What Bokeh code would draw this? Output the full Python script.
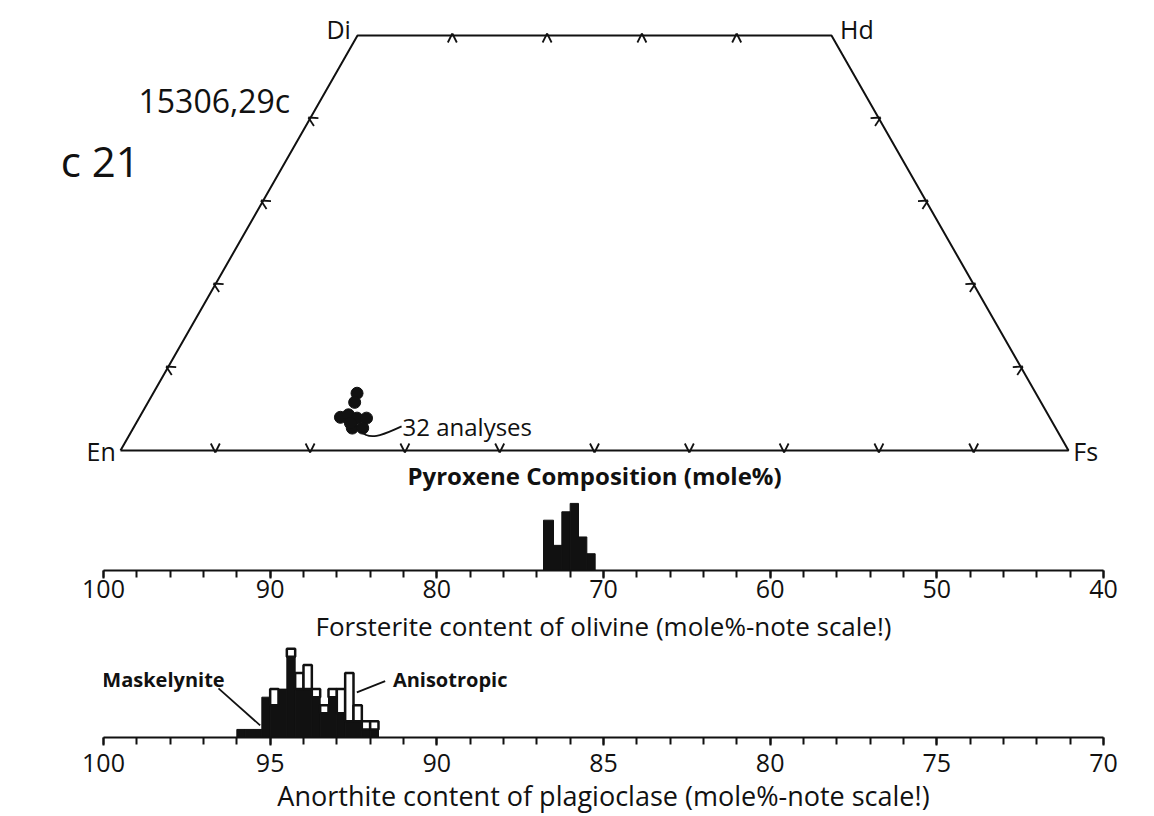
from bokeh.plotting import figure
from bokeh.models import Range1d, FixedTicker
from bokeh.core.properties import value
from bokeh.embed import file_html
from bokeh.resources import INLINE

FONT = "Open Sans"
INK = "#111111"

# ---------------- data ----------------
# pyroxene quadrilateral corners (Fs, Wo in mole %)
corner_names = ["En", "Fs", "Hd", "Di"]
corner_fs = [0, 100, 50, 0]
corner_wo = [0, 0, 50, 50]
edge_ticks_base = [10, 20, 30, 40, 50, 60, 70, 80, 90]   # Fs % along En-Fs
edge_ticks_side = [10, 20, 30, 40]                       # Wo % along sides
edge_ticks_top = [10, 20, 30, 40]                        # Fs % along Di-Hd

# pyroxene analyses (cluster of 32 analyses)
pyx_fs = [21.5, 21.8, 21.2, 21.9, 23.0, 24.0, 23.1, 24.2, 22.6]
pyx_wo = [6.9, 5.8, 4.0, 4.3, 3.9, 3.9, 2.7, 2.7, 3.3]

# olivine histogram (Fo mole %, bin upper edges), counts
oliv_bin_hi = [73.6, 73.0, 72.5, 72.0, 71.5, 71.0]
oliv_bin_lo = [73.0, 72.5, 72.0, 71.5, 71.0, 70.5]
oliv_counts = [6, 3, 7, 8, 4, 2]
oliv_ticks = [100, 90, 80, 70, 60, 50, 40]

# plagioclase histogram (An mole %, bin upper edges)
plag_bin_hi = [96.0, 95.75, 95.5, 95.25, 95.0, 94.75, 94.5, 94.25, 94.0,
               93.75, 93.5, 93.25, 93.0, 92.75, 92.5, 92.25, 92.0]
plag_bin_w = 0.25
plag_mask = [1, 1, 1, 5, 4, 6, 10, 6, 6, 5, 3, 5, 3, 2, 2, 1, 1]
plag_aniso = [0, 0, 0, 0, 2, 0, 1, 2, 3, 1, 1, 1, 3, 6, 2, 1, 1]
plag_ticks = [100, 95, 90, 85, 80, 75, 70]

# ---------------- pyroxene quadrilateral ----------------
W = 1154
SX = 9.48   # px per unit x
SY = 8.3    # px per unit Wo
X0 = 120    # px of En
Y0 = 450    # px of En-Fs line
HA = 497

def qx(fs, wo):
    return fs + wo / 2.0

pA = figure(width=W, height=HA, output_backend="svg", toolbar_location=None,
            x_range=Range1d(-X0 / SX, (W - X0) / SX),
            y_range=Range1d(-(HA - Y0) / SY, Y0 / SY),
            min_border=0)
pA.axis.visible = False
pA.grid.visible = False
pA.outline_line_color = None
pA.background_fill_color = "white"
pA.border_fill_color = "white"

cx = [qx(f, w) for f, w in zip(corner_fs, corner_wo)]
cy = list(corner_wo)
pA.line(cx + [cx[0]], cy + [cy[0]], line_color=INK, line_width=2)

# chevron tick marks pointing outward
chev_xs, chev_ys = [], []
def chevron(px_, py_, nx, ny):
    tx, ty = -ny, nx
    vx, vy = px_ + 2.0 * nx / SX, py_ + 2.0 * ny / SY
    a, b = 7.0, 4.5
    for s in (1, -1):
        ex = px_ + (-a * nx + s * b * tx) / SX
        ey = py_ + (-a * ny + s * b * ty) / SY
        chev_xs.append([vx, ex])
        chev_ys.append([vy, ey])

def edge_normal(p1, p2, inside):
    dx = (p2[0] - p1[0]) * SX
    dy = (p2[1] - p1[1]) * SY
    L = (dx * dx + dy * dy) ** 0.5
    nx, ny = dy / L, -dx / L
    mx = ((p1[0] + p2[0]) / 2 - inside[0]) * SX
    my = ((p1[1] + p2[1]) / 2 - inside[1]) * SY
    if nx * mx + ny * my < 0:
        nx, ny = -nx, -ny
    return nx, ny

center = (50, 25)
En = (cx[0], cy[0]); Fs = (cx[1], cy[1]); Hd = (cx[2], cy[2]); Di = (cx[3], cy[3])
n = edge_normal(En, Fs, center)
for f in edge_ticks_base:
    chevron(qx(f, 0), 0, *n)
n = edge_normal(En, Di, center)
for w in edge_ticks_side:
    chevron(qx(0, w), w, *n)
n = edge_normal(Fs, Hd, center)
for w in edge_ticks_side:
    chevron(qx(100 - w, w), w, *n)
n = edge_normal(Di, Hd, center)
for f in edge_ticks_top:
    chevron(qx(f, 50), 50, *n)
pA.multi_line(chev_xs, chev_ys, line_color=INK, line_width=1.8)

# analyses cluster
ax_ = [qx(f, w) for f, w in zip(pyx_fs, pyx_wo)]
pA.scatter(ax_, pyx_wo, size=12, color=INK)

# corner labels
fs_lab = 25
pA.text([En[0] - 0.5], [En[1]], text=["En"], text_align="right", text_baseline="middle",
        text_font=value(FONT), text_font_size=f"{fs_lab}px", text_color=INK)
pA.text([Fs[0] + 0.5], [Fs[1]], text=["Fs"], text_align="left", text_baseline="middle",
        text_font=value(FONT), text_font_size=f"{fs_lab}px", text_color=INK)
pA.text([Di[0] - 0.7], [Di[1] + 0.8], text=["Di"], text_align="right", text_baseline="middle",
        text_font=value(FONT), text_font_size=f"{fs_lab}px", text_color=INK)
pA.text([Hd[0] + 0.9], [Hd[1] + 0.8], text=["Hd"], text_align="left", text_baseline="middle",
        text_font=value(FONT), text_font_size=f"{fs_lab}px", text_color=INK)

# leader from cluster to its note
lx0, ly0 = max(ax_), min(pyx_wo) - 0.4
tx0, ty0 = lx0 + 3.7, ly0 + 0.6
pA.bezier(x0=[lx0 - 0.6], y0=[ly0], x1=[tx0], y1=[ty0],
          cx0=[lx0 + 0.5], cy0=[ly0 - 1.3], cx1=[tx0 - 1.5], cy1=[ty0 - 0.7],
          line_color=INK, line_width=1.8)
pA.text([tx0 + 0.1], [ty0], text=["32 analyses"], text_align="left", text_baseline="middle",
        text_font=value(FONT), text_font_size="24px", text_color=INK)

pA.text([50], [-3.0], text=["Pyroxene Composition (mole%)"], text_align="center",
        text_baseline="middle", text_font=value(FONT), text_font_size="24px",
        text_font_style="bold", text_color=INK)
pA.text([1.9], [42.2], text=["15306,29c"], text_align="left", text_baseline="middle",
        text_font=value(FONT), text_font_size="32px", text_color=INK)
pA.text([-6.3], [34.9], text=["c 21"], text_align="left", text_baseline="middle",
        text_font=value(FONT), text_font_size="42px", text_color=INK)

# ---------------- histogram panels ----------------
FL, FR = 103, W - 1103

def hist_panel(height, frame_h, unit_px, xr, ticks, minor, title, lab_off, title_off, tsize):
    p = figure(width=W, height=height, output_backend="svg", toolbar_location=None,
               x_range=Range1d(*xr), y_range=Range1d(0, frame_h / unit_px),
               min_border_left=FL, min_border_right=FR, min_border_top=0,
               min_border_bottom=height - frame_h)
    p.yaxis.visible = False
    p.grid.visible = False
    p.outline_line_color = None
    p.background_fill_color = "white"
    p.border_fill_color = "white"
    ax = p.xaxis[0]
    ax.ticker = FixedTicker(ticks=ticks, minor_ticks=minor)
    ax.axis_line_color = INK
    ax.axis_line_width = 2
    ax.major_tick_in = 0
    ax.major_tick_out = 8
    ax.minor_tick_in = 0
    ax.minor_tick_out = 7
    ax.major_tick_line_color = INK
    ax.minor_tick_line_color = INK
    ax.major_tick_line_width = 2
    ax.minor_tick_line_width = 2
    ax.major_label_text_font = FONT
    ax.major_label_text_font_size = "25px"
    ax.major_label_text_color = INK
    ax.major_label_standoff = lab_off
    ax.axis_label = title
    ax.axis_label_text_font = FONT
    ax.axis_label_text_font_size = tsize
    ax.axis_label_text_font_style = "normal"
    ax.axis_label_text_color = INK
    ax.axis_label_standoff = title_off
    return p

pB = hist_panel(149, 74, 8.5, (100, 40), oliv_ticks, list(range(40, 101, 2)),
                "Forsterite content of olivine (mole%-note scale!)", 1, 7, "26px")
pB.quad(left=oliv_bin_hi, right=oliv_bin_lo,
        bottom=0, top=oliv_counts, fill_color=INK, line_color=INK, line_width=1)

pC = hist_panel(170, 94, 8.33, (100, 70), plag_ticks, list(range(70, 101, 1)),
                "Anorthite content of plagioclase (mole%-note scale!)", 8, 2, "27px")
pC.quad(left=plag_bin_hi, right=[h - plag_bin_w for h in plag_bin_hi],
        bottom=0, top=plag_mask, fill_color=INK, line_color=INK, line_width=1)
an_l = [h for h, a in zip(plag_bin_hi, plag_aniso) if a > 0]
an_b = [m for m, a in zip(plag_mask, plag_aniso) if a > 0]
an_t = [m + a for m, a in zip(plag_mask, plag_aniso) if a > 0]
pC.quad(left=an_l, right=[h - plag_bin_w for h in an_l], bottom=an_b, top=an_t,
        fill_color="white", line_color=INK, line_width=2.5)

# labels with leaders
pC.text([98.2], [7.2], text=["Maskelynite"], text_align="center", text_baseline="middle",
        text_font=value(FONT), text_font_size="20px", text_font_style="bold", text_color=INK)
pC.line([96.55, 95.3], [6.1, 1.5], line_color=INK, line_width=1.8)
pC.text([89.6], [7.2], text=["Anisotropic"], text_align="center", text_baseline="middle",
        text_font=value(FONT), text_font_size="20px", text_font_style="bold", text_color=INK)
pC.line([91.55, 92.4], [7.0, 5.6], line_color=INK, line_width=1.8)

open("out.html", "w").write(file_html([pA, pB, pC], INLINE))
